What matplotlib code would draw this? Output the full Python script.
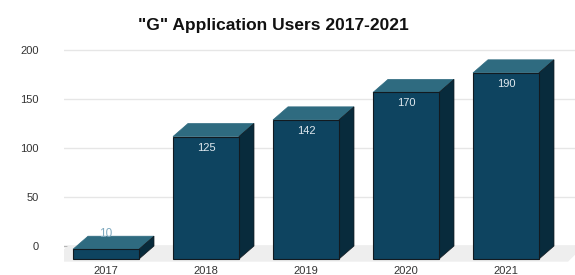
import matplotlib.pyplot as plt
from matplotlib.patches import Polygon

years = ["2017", "2018", "2019", "2020", "2021"]
users = [10, 125, 142, 170, 190]
y_ticks = [0, 50, 100, 150, 200]

plt.rcParams["font.family"] = ["Liberation Sans", "DejaVu Sans"]

fig = plt.figure(figsize=(5.75, 2.75), dpi=100)
# axes: left px 64 .. 575, value 0 at px 246, 200 at px 50
px_per_unit = 0.98
y_bot = -(262 - 246) / px_per_unit
y_top = (246 - 40) / px_per_unit
ax = fig.add_axes([64 / 575, (275 - 262) / 275, 1 - 64 / 575, (262 - 40) / 275])
ax.set_ylim(y_bot, y_top)
x0 = (64 - 121) / 100
ax.set_xlim(x0, x0 + (575 - 64) / 100)
for s in ax.spines.values():
    s.set_visible(False)

# depth offset of front faces (data units)
dx = -0.15
dy = -13.3
w = 0.66

front = "#0e4460"
top = "#2f6b80"
side = "#082b3c"
edge = "#121a20"

for t in y_ticks:
    ax.axhline(t, color="#e6e6e6" if t else "#b5b5b5", lw=1, zorder=0)

# floor
floor_dy = -16
ax.add_patch(Polygon([(x0 + 0.04, 0), (x0 + 5.2, 0), (x0 + 5.04, floor_dy), (x0 - 0.16, floor_dy)],
                     closed=True, facecolor="#eeeeee", edgecolor="none", zorder=1))

xs = list(range(len(years)))
ax.bar([x + dx for x in xs], users, width=w, bottom=dy, color=front,
       edgecolor=edge, linewidth=0.8, zorder=3)
for x, v in zip(xs, users):
    l, r = x - w / 2, x + w / 2
    ax.add_patch(Polygon([(l + dx, v + dy), (r + dx, v + dy), (r, v), (l, v)],
                         closed=True, facecolor=top, edgecolor=top, lw=0.5, zorder=2))
    ax.add_patch(Polygon([(r + dx, v + dy), (r, v), (r, 0), (r + dx, dy)],
                         closed=True, facecolor=side, edgecolor=edge, lw=0.5, zorder=2))
    if v > 30:
        ax.text(x + dx, v + dy - 11 / px_per_unit, str(v), ha="center", va="center",
                color="#dfe8ee", fontsize=8, zorder=4)
    else:
        ax.text(x + dx, 12, str(v), ha="center", va="center",
                color="#7fa9bf", fontsize=8.5, zorder=4)

ax.set_yticks(y_ticks)
ax.set_yticklabels([str(t) for t in y_ticks], color="#333333", fontsize=8)
ax.set_xticks([x + dx for x in xs])
ax.set_xticklabels(years, color="#333333", fontsize=8)
ax.tick_params(axis="y", length=0, pad=18)
ax.tick_params(axis="x", length=0, pad=3)

fig.text(273 / 575, 1 - 26 / 275, '"G" Application Users 2017-2021', ha="center", va="center",
         fontsize=12.5, fontweight="bold", color="#111111")

fig.savefig("out.png", dpi=100)
